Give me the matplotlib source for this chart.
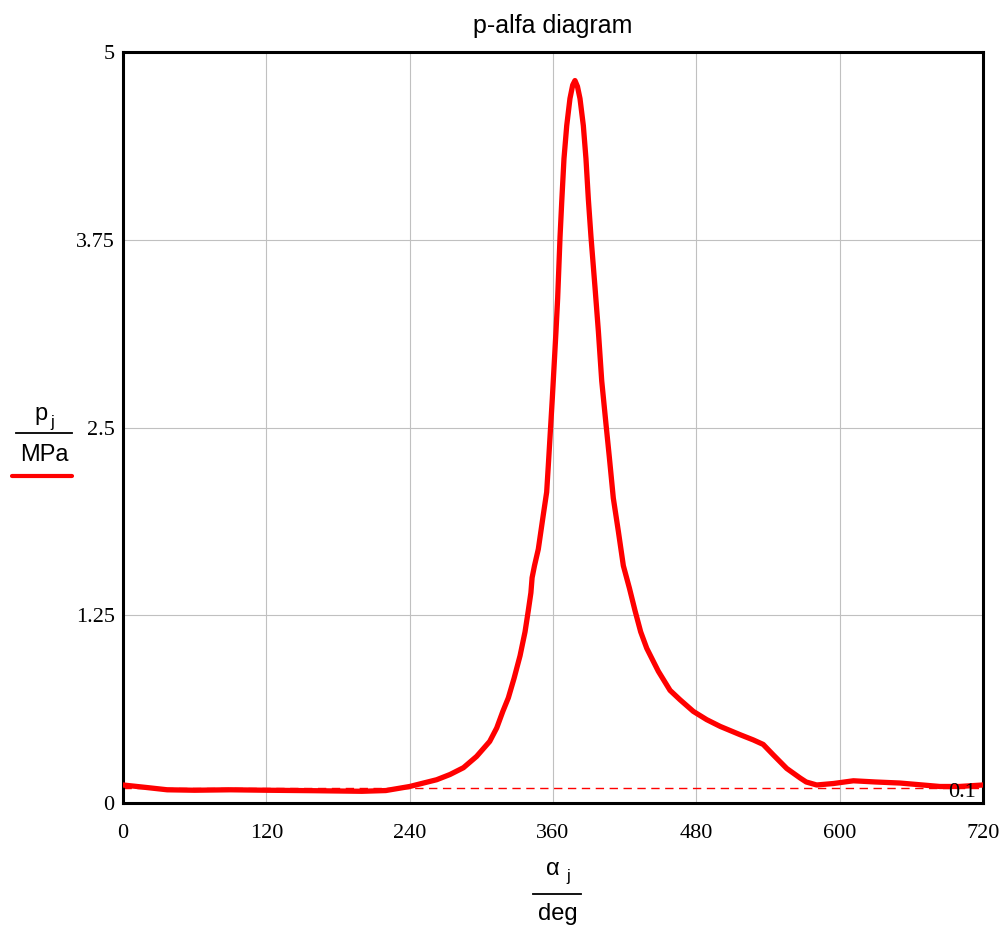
import numpy as np
import matplotlib
matplotlib.use("Agg")
import matplotlib.pyplot as plt
from matplotlib.lines import Line2D

# crank angle (deg) and cylinder pressure (MPa)
alpha = [0, 20, 37, 60, 90, 120, 160, 200, 220, 240, 262.6, 273.8, 285, 296,
         307, 312.9, 318,
         322.6, 327.4, 332.4, 336.6, 339.3, 341.5, 342.5, 344.5, 347.7, 351.9,
         354.7, 356.1, 359.4, 362.5, 363.9, 365.9, 367.3, 369.2, 371.5, 374.2,
         376.5, 378.4, 380.5, 382.6, 385.4, 387.6, 389.6, 391.8, 393.8, 395.2,
         398, 400.8, 404.4, 407.2, 410.5, 414.7, 418.9, 424, 428.7, 433.4,
         438.5, 444, 448.2, 458, 466.3, 477.5, 488.7, 500, 516.6, 527.7, 536,
         544.5, 555.7, 567, 572, 580.8, 595, 611.5, 630, 650.5, 684, 700, 720]
p = [0.12, 0.103, 0.088, 0.085, 0.088, 0.085, 0.082, 0.078, 0.083, 0.11,
     0.155, 0.19, 0.235, 0.31, 0.41, 0.50, 0.61,
     0.70, 0.83, 0.98, 1.14, 1.28, 1.40, 1.50, 1.58, 1.69, 1.92,
     2.07, 2.25, 2.69, 3.14, 3.36, 3.77, 4.0, 4.29, 4.51, 4.69,
     4.78, 4.81, 4.77, 4.69, 4.51, 4.29, 4.02, 3.77, 3.57, 3.43,
     3.14, 2.81, 2.52, 2.30, 2.03, 1.81, 1.58, 1.43, 1.28, 1.14,
     1.03, 0.943, 0.877, 0.75, 0.688, 0.61, 0.555, 0.51, 0.455, 0.42, 0.39,
     0.32, 0.23, 0.166, 0.14, 0.12, 0.13, 0.148, 0.14, 0.133, 0.11, 0.11, 0.12]
p_marker = 0.1

xticks = [0, 120, 240, 360, 480, 600, 720]
yticks = [0, 1.25, 2.5, 3.75, 5]
ytick_labels = ["0", "1.25", "2.5", "3.75", "5"]

sans = "Liberation Sans"
serif = "Liberation Serif"

fig = plt.figure(figsize=(10.06, 9.32), dpi=100)
ax = fig.add_axes([0.1223, 0.1384, 0.8548, 0.8058])

ax.axhline(p_marker, color="red", lw=1.0, ls=(0, (6, 4)), zorder=2)
ax.plot(alpha, p, color="red", lw=3.8, solid_joinstyle="round",
        solid_capstyle="round", zorder=3)
ax.text(714, p_marker - 0.03, "0.1", ha="right", va="center",
        fontsize=16, family=serif, zorder=4)

ax.set_xlim(0, 720)
ax.set_ylim(0, 5)
ax.set_xticks(xticks)
ax.set_yticks(yticks)
ax.set_yticklabels(ytick_labels)
ax.grid(True, color="#c0c0c0", lw=0.8)
ax.set_axisbelow(True)
ax.tick_params(length=0, labelsize=16)
ax.tick_params(axis="x", pad=15)
ax.tick_params(axis="y", pad=6)
for lab in ax.get_xticklabels() + ax.get_yticklabels():
    lab.set_family(serif)
for s in ax.spines.values():
    s.set_linewidth(2.2)
    s.set_color("black")

ax.set_title("p-alfa diagram", fontsize=18, family=sans, pad=14)

# y axis label as a fraction p_j / MPa with the trace sample underneath
W, H = 1006, 932
def fx(px):
    return px / W
def fy(py):
    return 1 - py / H

fig.text(fx(41), fy(414), "p", fontsize=17, family=sans, ha="center", va="center")
fig.text(fx(52), fy(423), "j", fontsize=12, family=sans, ha="center", va="center")
fig.add_artist(Line2D([fx(16), fx(72)], [fy(433), fy(433)], color="black",
                      lw=1.3, transform=fig.transFigure))
fig.text(fx(44), fy(455), "MPa", fontsize=17, family=sans, ha="center", va="center")
fig.add_artist(Line2D([fx(12), fx(72)], [fy(476), fy(476)], color="red",
                      lw=3, solid_capstyle="round", transform=fig.transFigure))

# x axis label alpha_j / deg
fig.text(fx(553), fy(869), "α", fontsize=17, family=sans, ha="center", va="center")
fig.text(fx(568), fy(876), "j", fontsize=12, family=sans, ha="center", va="center")
fig.add_artist(Line2D([fx(533), fx(581)], [fy(894), fy(894)], color="black",
                      lw=1.3, transform=fig.transFigure))
fig.text(fx(558), fy(914), "deg", fontsize=17, family=sans, ha="center", va="center")

fig.savefig("out.png", dpi=100)
